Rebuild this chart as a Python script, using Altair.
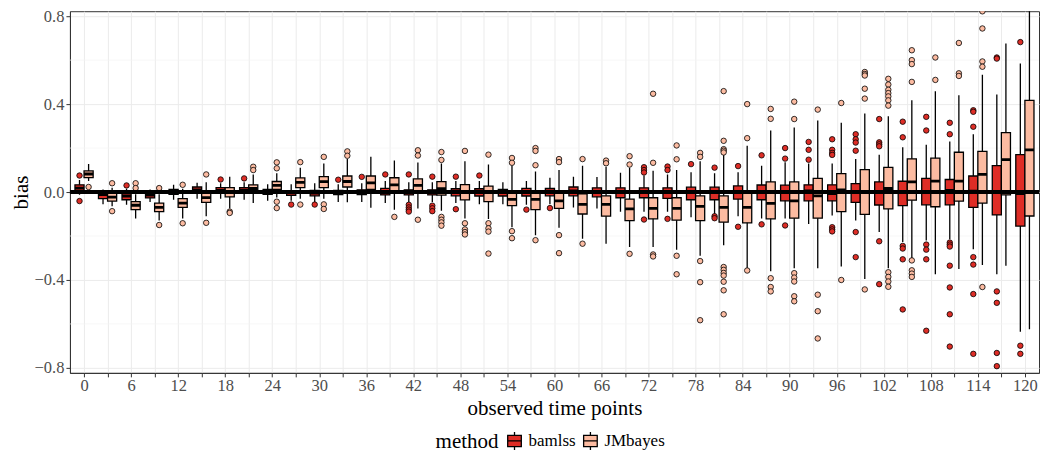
import altair as alt
import pandas as pd

FONT = "Liberation Serif"

times = [0, 3, 6, 9, 12, 15, 18, 21, 24, 27, 30, 33, 36, 39, 42, 45, 48, 51, 54, 57,
         60, 63, 66, 69, 72, 75, 78, 81, 84, 87, 90, 93, 96, 99, 102, 105, 108, 111, 114, 117, 120]

# bamlss box statistics
bam_lw = [-0.012, -0.055, -0.058, -0.045, -0.035, -0.030, -0.030, -0.035, -0.040, -0.040,
          -0.045, -0.045, -0.045, -0.050, -0.045, -0.045, -0.050, -0.055, -0.055, -0.058,
          -0.055, -0.070, -0.075, -0.090, -0.090, -0.090, -0.115, -0.100, -0.110, -0.120,
          -0.120, -0.145, -0.107, -0.130, -0.182, -0.227, -0.220, -0.215, -0.260, -0.374, -0.636]
bam_q1 = [0.002, -0.030, -0.035, -0.027, -0.011, -0.002, -0.002, -0.002, -0.011, -0.015,
          -0.017, -0.012, -0.012, -0.013, -0.013, -0.013, -0.017, -0.018, -0.018, -0.018,
          -0.017, -0.017, -0.022, -0.026, -0.026, -0.029, -0.035, -0.035, -0.032, -0.035,
          -0.040, -0.040, -0.040, -0.047, -0.059, -0.062, -0.058, -0.058, -0.070, -0.104, -0.155]
bam_med = [0.018, -0.012, -0.018, -0.014, 0.002, 0.010, 0.008, 0.009, 0.000, -0.004,
           -0.005, -0.002, 0.000, 0.003, -0.001, -0.001, -0.001, -0.002, -0.003, 0.000,
           0.000, 0.005, 0.000, 0.000, 0.000, -0.002, -0.002, -0.002, 0.000, 0.000,
           0.000, 0.005, -0.007, 0.000, 0.000, -0.002, 0.003, 0.008, 0.004, 0.000, -0.007]
bam_q3 = [0.033, 0.000, -0.005, 0.000, 0.012, 0.023, 0.020, 0.020, 0.012, 0.006,
          0.008, 0.008, 0.010, 0.017, 0.010, 0.010, 0.015, 0.015, 0.012, 0.017,
          0.016, 0.023, 0.019, 0.019, 0.019, 0.019, 0.022, 0.022, 0.028, 0.032,
          0.031, 0.033, 0.033, 0.038, 0.046, 0.049, 0.062, 0.057, 0.073, 0.120, 0.170]
bam_uw = [0.055, 0.012, 0.015, 0.012, 0.033, 0.042, 0.040, 0.045, 0.035, 0.035,
          0.040, 0.035, 0.040, 0.050, 0.045, 0.045, 0.050, 0.050, 0.045, 0.050,
          0.065, 0.070, 0.068, 0.088, 0.075, 0.080, 0.090, 0.085, 0.090, 0.120,
          0.136, 0.130, 0.130, 0.150, 0.170, 0.204, 0.215, 0.230, 0.263, 0.444, 0.585]
bam_out = [[0.075, -0.041], [], [0.030], [], [], [], [0.057], [0.062], [], [-0.057],
           [-0.057], [0.056], [0.069], [0.080], [0.080, -0.058, -0.070, -0.080, -0.089],
           [0.070, -0.062, -0.074, -0.087], [0.070, -0.078], [0.075], [], [-0.080],
           [-0.073], [], [], [], [0.113, 0.100, 0.089, -0.125], [0.116, 0.100, -0.122],
           [0.127], [0.111, -0.110, -0.119], [0.118, -0.158], [0.167, -0.147],
           [0.200, 0.152, -0.152], [0.228, 0.192, 0.147],
           [0.240, 0.192, 0.178, 0.169, -0.160, -0.170, -0.179],
           [0.263, 0.240, 0.225, 0.188, -0.182, -0.296],
           [0.332, 0.226, 0.217, 0.208, -0.224, -0.419],
           [0.320, 0.249, -0.245, -0.257, -0.306, -0.534],
           [0.342, 0.280, -0.239, -0.262, -0.306, -0.631],
           [0.315, 0.263, -0.230, -0.239, -0.248, -0.335, -0.434, -0.556, -0.703],
           [0.372, 0.365, 0.297, -0.296, -0.330, -0.464, -0.736],
           [0.612, 0.607, -0.452, -0.504, -0.732, -0.792],
           [0.682, -0.699, -0.736]]

# JMbayes box statistics
jm_lw = [0.050, -0.065, -0.120, -0.130, -0.120, -0.110, -0.075, -0.050, -0.025, -0.030,
         -0.030, -0.047, -0.072, -0.080, -0.075, -0.085, -0.120, -0.123, -0.160, -0.196,
         -0.163, -0.212, -0.235, -0.250, -0.250, -0.263, -0.290, -0.242, -0.345, -0.360,
         -0.347, -0.347, -0.339, -0.395, -0.347, -0.300, -0.374, -0.350, -0.332, -0.335, -0.624]
jm_q1 = [0.066, -0.041, -0.080, -0.089, -0.070, -0.047, -0.022, -0.002, 0.012, 0.020,
         0.020, 0.023, 0.012, 0.000, -0.002, -0.014, -0.036, -0.044, -0.062, -0.080,
         -0.074, -0.100, -0.110, -0.130, -0.122, -0.128, -0.130, -0.137, -0.140, -0.122,
         -0.119, -0.119, -0.089, -0.102, -0.077, -0.037, -0.067, -0.041, -0.050, -0.013, -0.109]
jm_med = [0.082, -0.023, -0.060, -0.070, -0.050, -0.025, 0.000, 0.016, 0.030, 0.044,
          0.047, 0.048, 0.042, 0.033, 0.030, 0.015, 0.000, -0.002, -0.033, -0.033,
          -0.040, -0.056, -0.056, -0.077, -0.074, -0.074, -0.065, -0.070, -0.070, -0.052,
          -0.040, -0.017, 0.010, 0.000, 0.016, 0.046, 0.050, 0.050, 0.080, 0.147, 0.192]
jm_q3 = [0.096, -0.005, -0.044, -0.050, -0.030, -0.002, 0.020, 0.033, 0.048, 0.064,
         0.070, 0.073, 0.073, 0.065, 0.060, 0.047, 0.034, 0.027, 0.005, -0.002,
         0.002, -0.008, -0.017, -0.032, -0.026, -0.026, -0.017, -0.017, 0.001, 0.046,
         0.046, 0.062, 0.084, 0.102, 0.112, 0.151, 0.154, 0.181, 0.185, 0.270, 0.417]
jm_uw = [0.127, 0.020, -0.010, -0.010, 0.015, 0.045, 0.070, 0.080, 0.085, 0.110,
         0.130, 0.150, 0.160, 0.143, 0.134, 0.130, 0.140, 0.125, 0.120, 0.093,
         0.100, 0.120, 0.115, 0.110, 0.097, 0.100, 0.140, 0.170, 0.210, 0.280,
         0.294, 0.325, 0.315, 0.357, 0.345, 0.417, 0.459, 0.440, 0.534, 0.676, 0.950]
jm_out = [[0.023], [0.040, -0.087], [0.040, 0.018], [0.018, -0.150], [0.033, -0.142],
          [0.080, -0.140], [-0.089, -0.095], [0.115, 0.100], [0.135, 0.108, -0.044, -0.073],
          [0.136, -0.057], [0.160, -0.056, -0.077], [0.185, 0.165], [], [-0.113],
          [0.190, 0.166, -0.126], [0.182, 0.146, -0.113, -0.126, -0.138, -0.153],
          [0.187, -0.142, -0.170, -0.182, -0.193], [0.170, -0.142, -0.165, -0.180, -0.280],
          [0.155, 0.133, -0.178, -0.210], [0.200, 0.187, 0.122, -0.219],
          [0.150, 0.136, -0.196, -0.278], [0.150, -0.235], [0.143, 0.131],
          [0.163, 0.125, -0.281], [0.447, 0.133, -0.284, -0.293],
          [0.212, 0.149, -0.290, -0.374], [0.178, 0.160, -0.314, -0.410, -0.583],
          [0.459, 0.233, 0.195, 0.188, 0.180, -0.341, -0.354, -0.368, -0.380, -0.408, -0.447, -0.556],
          [0.400, 0.245, -0.357], [0.378, 0.333, -0.392, -0.432, -0.452],
          [0.411, 0.332, -0.369, -0.389, -0.407, -0.474, -0.497],
          [0.375, -0.467, -0.542, -0.666], [0.405, -0.400],
          [0.546, 0.537, 0.530, 0.470, 0.425, -0.443],
          [0.515, 0.489, 0.465, 0.450, 0.435, 0.417, 0.393, -0.365, -0.386, -0.407, -0.431],
          [0.645, 0.600, 0.582, 0.501, -0.311, -0.356, -0.371, -0.386],
          [0.612, 0.510], [0.678, 0.540, 0.528],
          [0.822, 0.744, 0.594, 0.570, -0.432], [], []]

methods = ["bamlss", "JMbayes"]
colors = ["#DE2D26", "#FCBBA1"]
y_major = [-0.8, -0.4, 0.0, 0.4, 0.8]
y_minor = [-0.6, -0.2, 0.2, 0.6]

box_rows = []
out_rows = []
for m, stats, outs in [("bamlss", (bam_lw, bam_q1, bam_med, bam_q3, bam_uw), bam_out),
                       ("JMbayes", (jm_lw, jm_q1, jm_med, jm_q3, jm_uw), jm_out)]:
    for i, t in enumerate(times):
        box_rows.append(dict(time=t, method=m, lw=stats[0][i], q1=stats[1][i],
                             med=stats[2][i], q3=stats[3][i], uw=stats[4][i]))
        for v in outs[i]:
            out_rows.append(dict(time=t, method=m, v=v))
boxes_df = pd.DataFrame(box_rows)
out_df = pd.DataFrame(out_rows)

xscale = alt.Scale(domain=[-1.8, 121.8], nice=False, zero=False)
yscale = alt.Scale(domain=[-0.8225, 0.8225], nice=False, zero=False)

xaxis = alt.Axis(values=times, labelExpr="datum.value % 6 == 0 ? datum.label : ''",
                 title="observed time points", grid=True, labelPadding=1, titlePadding=3)
yaxis = alt.Axis(values=y_major, format=".1f", title="bias", grid=True,
                 labelPadding=2, titlePadding=3)

fill = alt.Fill("method:N", scale=alt.Scale(domain=methods, range=colors),
                legend=alt.Legend(orient="none", legendX=366, legendY=420,
                                  direction="horizontal", titleOrient="left", title="method",
                                  symbolType="M-0.75,-0.62H0.75V0.62H-0.75Z M-0.75,0H0.75 M0,-0.62V-1 M0,0.62V1",
                                  symbolSize=330, symbolStrokeColor="black", symbolStrokeWidth=1.3,
                                  labelFont=FONT, titleFont=FONT, labelFontSize=17, titleFontSize=21,
                                  labelColor="black", titleColor="black", titleFontWeight="normal",
                                  columnPadding=4, labelOffset=4, titlePadding=6))

calc = dict(xc="datum.time + (datum.method == 'bamlss' ? -0.58 : 0.58)")

X = lambda f: alt.X(f, type="quantitative", scale=xscale, axis=xaxis)
Y = lambda f: alt.Y(f, type="quantitative", scale=yscale, axis=yaxis)

minor = alt.Chart(pd.DataFrame({"v": y_minor})).mark_rule(
    color="#F3F3F3", strokeWidth=0.7).encode(y=Y("v"))

base = alt.Chart(boxes_df).transform_calculate(**calc).transform_calculate(
    xl="datum.xc - 0.58", xr="datum.xc + 0.58")

whisk = base.mark_rule(color="black", strokeWidth=1.3, clip=True).encode(
    x=X("xc"), y=Y("lw"), y2="uw")
box = base.mark_rect(stroke="black", strokeWidth=1.3, clip=True).encode(
    x=X("xl"), x2="xr", y=Y("q1"), y2="q3", fill=fill)
med = base.mark_rule(color="black", strokeWidth=2.8, clip=True).encode(
    x=X("xl"), x2="xr", y=Y("med"))
pts = alt.Chart(out_df).transform_calculate(**calc).mark_circle(
    size=30, stroke="black", strokeWidth=0.8, opacity=1, clip=True).encode(
    x=X("xc"), y=Y("v"), fill=fill)
zero = alt.Chart(pd.DataFrame({"v": [0.0]})).mark_rule(color="black", strokeWidth=4).encode(
    y=Y("v"))

chart = alt.layer(minor, whisk, box, med, pts, zero).properties(
    width=970, height=362,
    autosize=alt.AutoSizeParams(type="none"),
    padding={"left": 62, "top": 3, "right": 1, "bottom": 81},
).configure_view(stroke="#333333", strokeWidth=1).configure_axis(
    gridColor="#EBEBEB", gridWidth=1, domainColor="#333333", tickColor="#333333",
    tickSize=4, labelFont=FONT, titleFont=FONT, labelColor="#4D4D4D", labelFontSize=16.5,
    titleFontSize=21, titleFontWeight="normal", titleColor="black")

chart.save("out.html", embed_options={"renderer": "svg", "actions": False})
